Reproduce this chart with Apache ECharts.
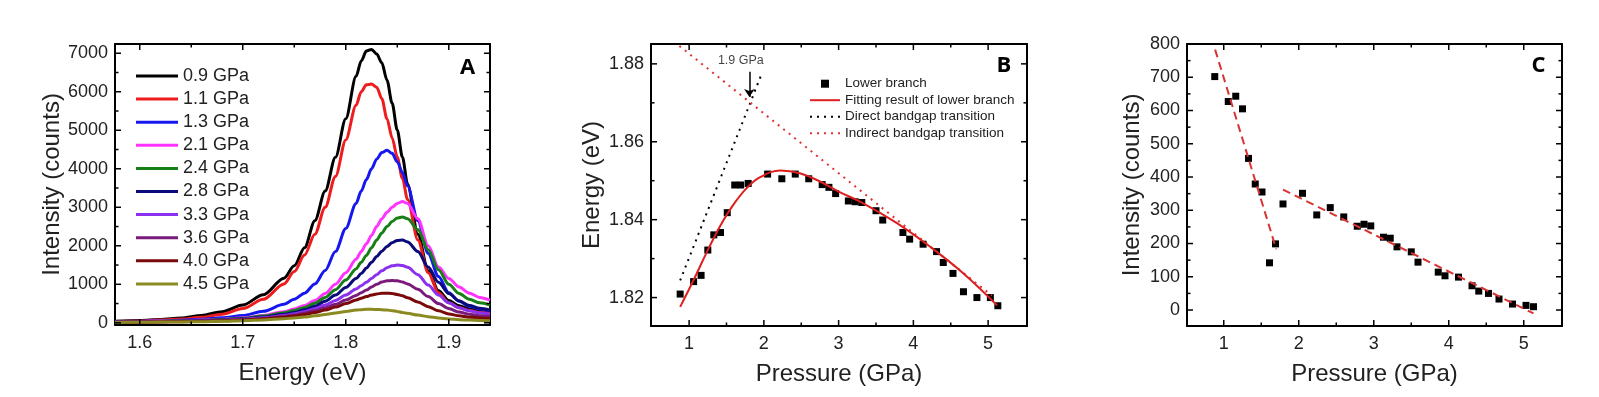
<!DOCTYPE html>
<html><head><meta charset="utf-8">
<script src="https://cdn.jsdelivr.net/npm/echarts@6/dist/echarts.min.js"></script>
<style>html,body{margin:0;padding:0;background:#fff}#c{width:1599px;height:397px}</style>
</head><body><div id="c"></div><script>
// ---------- Panel A: PL spectra ----------
const energyA = [1.576,1.60,1.62,1.64,1.66,1.68,1.70,1.72,1.74,1.75,1.76,1.77,1.78,1.79,1.80,1.81,1.815,1.82,1.825,1.83,1.835,1.84,1.845,1.85,1.855,1.86,1.87,1.88,1.89,1.90,1.91,1.92,1.93,1.94];
const spec09 = [40,60,85,125,190,290,460,730,1160,1480,1950,2650,3420,4300,5300,6400,6800,7060,7100,6980,6750,6300,5700,5000,4300,3600,2300,1350,830,580,440,360,310,280];
const spec11 = [35,50,70,98,145,225,370,610,1010,1330,1760,2300,3000,3800,4750,5650,6000,6180,6200,6120,5820,5300,4800,4300,3750,3200,2150,1300,780,520,390,320,270,244];
const spec13 = [30,40,50,65,90,130,190,300,480,610,770,1010,1360,1850,2450,3100,3420,3720,4000,4250,4420,4480,4400,4180,3900,3550,2650,1800,1200,780,560,430,360,310];
const spec21 = [25,35,45,55,70,95,130,190,290,360,450,580,760,1000,1300,1650,1850,2050,2270,2500,2700,2870,3000,3100,3150,3100,2700,2000,1450,1150,930,770,660,590];
const spec24 = [25,30,40,50,65,85,120,175,260,320,400,510,660,860,1110,1400,1570,1750,1950,2150,2330,2500,2630,2720,2750,2700,2420,1900,1380,1000,760,610,520,460];
const spec28 = [20,28,35,45,58,75,105,150,220,270,340,430,560,720,920,1150,1280,1420,1570,1720,1860,1980,2080,2140,2150,2100,1850,1450,1050,760,570,450,380,330];
const spec33 = [20,25,32,40,50,65,90,130,190,235,290,365,460,580,720,880,965,1050,1150,1250,1350,1430,1480,1500,1490,1440,1250,980,720,520,390,310,260,220];
const spec36 = [15,20,28,35,45,60,80,115,165,200,250,310,390,480,590,710,780,850,930,1000,1060,1090,1100,1090,1060,1010,870,680,500,370,280,220,185,160];
const spec40 = [12,18,24,30,40,52,70,100,145,175,215,265,330,410,500,590,640,680,720,750,765,770,760,735,700,650,540,420,310,230,180,145,125,110];
const spec45 = [10,14,18,24,30,40,55,75,105,125,150,180,215,255,295,330,342,350,350,347,340,330,315,295,270,245,200,160,125,100,82,70,62,55];
const spectraA = [spec09,spec11,spec13,spec21,spec24,spec28,spec33,spec36,spec40,spec45];
const namesA = ['0.9 GPa','1.1 GPa','1.3 GPa','2.1 GPa','2.4 GPa','2.8 GPa','3.3 GPa','3.6 GPa','4.0 GPa','4.5 GPa'];
const colorsA = ['#000000','#ee1c1c','#1616f0','#ff33ff','#168016','#0a0a7a','#8a30ee','#7a1a7a','#7a0a0a','#8a8a20'];
const ticksAx = [1.6,1.7,1.8,1.9], minorAx = [1.65,1.75,1.85];
const ticksAy = [0,1000,2000,3000,4000,5000,6000,7000], minorAy = [500,1500,2500,3500,4500,5500,6500];

// ---------- Panel B / C: shared pressures ----------
const pressure = [0.88,1.06,1.16,1.25,1.33,1.42,1.51,1.61,1.69,1.79,2.05,2.24,2.42,2.60,2.78,2.87,2.96,3.13,3.22,3.31,3.50,3.59,3.86,3.95,4.13,4.31,4.40,4.53,4.67,4.85,5.03,5.13];
const energyB = [1.8209,1.8241,1.8257,1.8322,1.8361,1.8367,1.8418,1.8489,1.8489,1.8493,1.8517,1.8505,1.8517,1.8505,1.8490,1.8483,1.8467,1.8448,1.8446,1.8444,1.8423,1.8399,1.8367,1.8350,1.8337,1.8318,1.8290,1.8262,1.8215,1.8200,1.8200,1.8179];
const fitP = [0.88,1.06,1.24,1.41,1.59,1.77,1.95,2.22,2.48,2.75,3.00,3.33,3.78,4.22,4.67,5.12];
const fitE = [1.8176,1.8245,1.8318,1.8382,1.8438,1.8481,1.8509,1.8526,1.8519,1.8498,1.8472,1.8442,1.8391,1.8331,1.8262,1.8180];
const directP = [0.88,1.98], directE = [1.8244,1.8779];
const indirectP = [0.87,5.05], indirectE = [1.8846,1.8205];
const annotText = '1.9 GPa', annotAt = [1.692,1.8808];
const arrowFrom = [1.806,1.8780], arrowTo = [1.806,1.8715];
const ticksBx = [1,2,3,4,5], minorBx = [1.5,2.5,3.5,4.5];
const ticksBy = [1.82,1.84,1.86,1.88], minorBy = [1.83,1.85,1.87];

const intensityC = [702,627,643,605,456,379,355,142,199,319,351,286,308,280,252,258,253,219,216,190,175,144,114,103,99,73,57,50,33,18,14,10];
const fastP = [0.885,1.70], fastI = [783,183];
const slowP = [1.79,5.13], slowI = [362,-10];
const ticksCx = [1,2,3,4,5], minorCx = [1.5,2.5,3.5,4.5];
const ticksCy = [0,100,200,300,400,500,600,700,800], minorCy = [50,150,250,350,450,550,650,750];

// axis ranges
const rangeA = {x:[1.576,1.94], y:[-57,7240]};
const rangeB = {x:[0.49,5.52], y:[1.8127,1.8851]};
const rangeC = {x:[0.51,5.51], y:[-48,800]};

// ---------- helpers ----------
const FONT = '"Liberation Sans", Arial, sans-serif';
const pairs = (xs, ys) => xs.map((x, i) => [x, ys[i]]);
function axesFor(dim, grid, range, majors, fmt, name, nameGap) {
  const isX = dim === 'x';
  const pos = isX ? ['bottom','top'] : ['left','right'];
  const base = () => ({type:'value', gridIndex:grid, min:range[0], max:range[1], splitLine:{show:false}});
  const line = () => ({show:true, onZero:false, lineStyle:{color:'#000', width:2}});
  return [
    Object.assign(base(), {position:pos[0], name, nameLocation:'middle', nameGap,
      nameTextStyle:{fontSize:24, color:'#222', fontFamily:FONT},
      axisLine:line(), axisTick:{show:false},
      axisLabel:{show:true, customValues:majors, formatter:fmt, fontSize:18, color:'#222', fontFamily:FONT, margin:isX?9:7}}),
    Object.assign(base(), {position:pos[1], axisLine:line(), axisTick:{show:false}, axisLabel:{show:false}})
  ];
}
const fInt = v => String(Math.round(v));

const xAxis = [].concat(
  axesFor('x',0,rangeA.x,ticksAx,v=>v.toFixed(1),'Energy (eV)',36),
  axesFor('x',1,rangeB.x,ticksBx,fInt,'Pressure (GPa)',36),
  axesFor('x',2,rangeC.x,ticksCx,fInt,'Pressure (GPa)',36)
);
const yAxis = [].concat(
  axesFor('y',0,rangeA.y,ticksAy,fInt,'Intensity (counts)',51),
  axesFor('y',1,rangeB.y,ticksBy,v=>v.toFixed(2),'Energy (eV)',47),
  axesFor('y',2,rangeC.y,ticksCy,fInt,'Intensity (counts)',43)
);
const AI = 0, BI = 2, CI = 4;

const ICON_LINE_A = 'path://M0,0H42V3H0Z';
const ICON_SOLID = 'path://M0,0H30V2H0Z';
const ICON_DOTS = 'path://M0,0h2v2h-2z M7,0h2v2h-2z M14,0h2v2h-2z M21,0h2v2h-2z M28,0h2v2h-2z';
const ICON_SQUARE = 'path://M0,0H8V8H0Z';

const series = [];
spectraA.forEach((s, i) => series.push({
  name:namesA[i], type:'line', xAxisIndex:AI, yAxisIndex:AI, data:pairs(energyA, s),
  symbol:'none', smooth:0.3, smoothMonotone:'x', color:colorsA[i],
  lineStyle:{color:colorsA[i], width:3}
}));
series.push(
  {name:'Direct bandgap transition', type:'line', xAxisIndex:BI, yAxisIndex:BI, data:pairs(directP,directE), symbol:'none', color:'#000', lineStyle:{color:'#000', width:2, type:[2,5]}},
  {name:'Indirect bandgap transition', type:'line', xAxisIndex:BI, yAxisIndex:BI, data:pairs(indirectP,indirectE), symbol:'none', color:'#e23030', lineStyle:{color:'#e23030', width:2, type:[2,5]}},
  {name:'Fitting result of lower branch', type:'line', xAxisIndex:BI, yAxisIndex:BI, data:pairs(fitP,fitE), symbol:'none', smooth:0.4, color:'#dd1f1f', lineStyle:{color:'#dd1f1f', width:2}},
  {name:'Lower branch', type:'scatter', xAxisIndex:BI, yAxisIndex:BI, data:pairs(pressure,energyB), symbol:'rect', symbolSize:7, color:'#000', itemStyle:{color:'#000', opacity:1}},
  {name:'annot', type:'scatter', xAxisIndex:BI, yAxisIndex:BI, data:[annotAt], symbolSize:0, silent:true,
   label:{show:true, position:'inside', formatter:annotText, fontSize:12.5, color:'#111', fontFamily:FONT},
   markLine:{silent:true, symbol:['none','arrow'], symbolSize:8, label:{show:false},
     lineStyle:{color:'#000', width:1.5, type:'solid'},
     data:[[{coord:arrowFrom},{coord:arrowTo}]]}},
  {name:'fast', type:'line', xAxisIndex:CI, yAxisIndex:CI, data:pairs(fastP,fastI), symbol:'none', lineStyle:{color:'#d93333', width:2, type:[8,5]}},
  {name:'slow', type:'line', xAxisIndex:CI, yAxisIndex:CI, data:pairs(slowP,slowI), symbol:'none', lineStyle:{color:'#d93333', width:2, type:[8,5]}},
  {name:'Intensity', type:'scatter', xAxisIndex:CI, yAxisIndex:CI, data:pairs(pressure,intensityC), symbol:'rect', symbolSize:7, itemStyle:{color:'#000', opacity:1}}
);

const panelLabel = (t, x, y) => ({type:'text', x, y, z:100, style:{text:t, font:'bold 22px "Open Sans", sans-serif', fill:'#000', align:'center', verticalAlign:'middle'}});
const labels = [panelLabel('A',467.5,67.5), panelLabel('B',1004,65.5), panelLabel('C',1538.5,65.5)];

const gridBoxes = [
  {left:115, top:44, width:375, height:281},
  {left:651, top:44, width:376, height:282},
  {left:1187, top:44, width:375, height:282}
];

const option = {
  animation:false,
  backgroundColor:'#fff',
  grid:gridBoxes.map(g => Object.assign({}, g)),
  xAxis, yAxis,
  legend:[
    {data:namesA.map(n => ({name:n, icon:ICON_LINE_A})), orient:'vertical', left:131, top:62,
     itemWidth:42, itemHeight:18, itemGap:5.1, symbolKeepAspect:true,
     textStyle:{fontSize:18, lineHeight:18, color:'#222', fontFamily:FONT}},
    {data:[{name:'Lower branch', icon:ICON_SQUARE},
           {name:'Fitting result of lower branch', icon:ICON_SOLID},
           {name:'Direct bandgap transition', icon:ICON_DOTS},
           {name:'Indirect bandgap transition', icon:ICON_DOTS}],
     orient:'vertical', left:805, top:71.7, itemWidth:30, itemHeight:8, itemGap:2.5, symbolKeepAspect:true,
     textStyle:{fontSize:13.5, lineHeight:14, color:'#222', fontFamily:FONT}}
  ],
  graphic:labels,
  series
};
const chart = echarts.init(document.getElementById('c'), null, {renderer:'canvas'});
chart.setOption(option);

// inward, mirrored ticks: positions from the chart's own coordinate conversion
function tickRects(gi, r, xMaj, xMin, yMaj, yMin) {
  const g = gridBoxes[gi];
  const lin = (v, a, b, p0, p1) => p0 + (v - a) / (b - a) * (p1 - p0);
  const toPx = (x, y) => {
    let p = null;
    try { p = chart.convertToPixel({gridIndex:gi}, [x, y]); } catch (e) { p = null; }
    if (!p || !Number.isFinite(p[0]) || !Number.isFinite(p[1])) {
      p = [lin(x, r.x[0], r.x[1], g.left, g.left + g.width), lin(y, r.y[0], r.y[1], g.top + g.height, g.top)];
    }
    return p;
  };
  const bottom = g.top + g.height, top = g.top, left = g.left, right = g.left + g.width;
  const out = [];
  const rect = (x, y, w, h) => out.push({type:'rect', z:100, silent:true, shape:{x, y, width:w, height:h}, style:{fill:'#000'}});
  const addX = (v, len) => { const x = toPx(v, r.y[0])[0]; rect(x - 0.75, bottom - len, 1.5, len); rect(x - 0.75, top, 1.5, len); };
  const addY = (v, len) => { const y = toPx(r.x[0], v)[1]; rect(left, y - 0.75, len, 1.5); rect(right - len, y - 0.75, len, 1.5); };
  xMaj.forEach(v => addX(v, 6)); xMin.forEach(v => addX(v, 3.5));
  yMaj.forEach(v => addY(v, 6)); yMin.forEach(v => addY(v, 3.5));
  return out;
}
const ticks = [].concat(
  tickRects(0, rangeA, ticksAx, minorAx, ticksAy, minorAy),
  tickRects(1, rangeB, ticksBx, minorBx, ticksBy, minorBy),
  tickRects(2, rangeC, ticksCx, minorCx, ticksCy, minorCy)
);
chart.setOption({graphic: labels.concat(ticks)});
</script></body></html>
